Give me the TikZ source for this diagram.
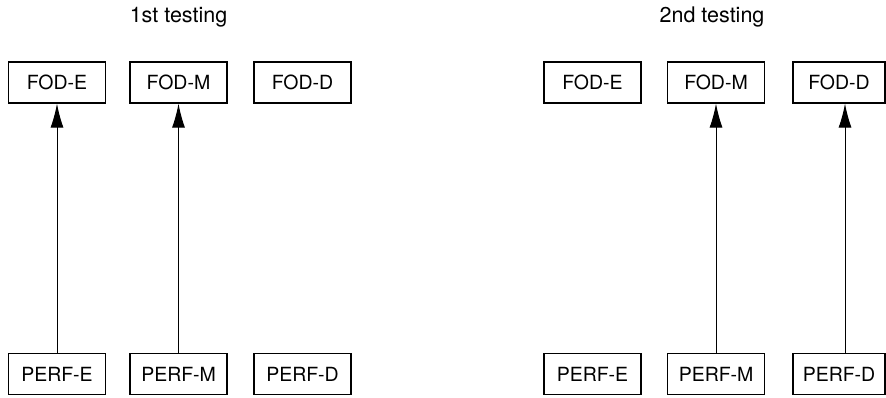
\documentclass[tikz,border=0pt]{standalone}
\usepackage{fontspec}
\setmainfont{TeX Gyre Heros}
\usepackage{tikz}
\usetikzlibrary{arrows.meta}

\begin{document}
\begin{tikzpicture}[x=0.5pt,y=-0.5pt,
		box/.style={draw,line width=0.6pt,inner sep=0pt,minimum width=48.5pt,minimum height=20.5pt,font=\fontsize{9.75}{11}\selectfont},
		title/.style={font=\fontsize{10.75}{12}\selectfont},
		link/.style={line width=0.5pt,-{Latex[length=12pt,width=6.5pt]}}]
			
			\useasboundingbox (0,0) rectangle (886,397);
			
			% first testing
			\node[title] (t1) at (178.5,17) {1st testing};
			\node[box] (fe1) at (57,82.5) {FOD-E};
			\node[box] (fm1) at (178.5,82.5) {FOD-M};
			\node[box] (fd1) at (302.5,82.5) {FOD-D};
			\node[box] (pe1) at (57,374) {PERF-E};
			\node[box] (pm1) at (178.5,374) {PERF-M};
			\node[box] (pd1) at (302.5,374) {PERF-D};
			
			\draw[link] (pe1)--(fe1);
			\draw[link] (pm1)--(fm1);
			
			% second testing
			\node[title] (t2) at (712,17) {2nd testing};
			\node[box] (fe2) at (592.5,82.5) {FOD-E};
			\node[box] (fm2) at (716,82.5) {FOD-M};
			\node[box,minimum width=46pt] (fd2) at (839,82.5) {FOD-D};
			\node[box] (pe2) at (592.5,374) {PERF-E};
			\node[box] (pm2) at (716,374) {PERF-M};
			\node[box,minimum width=46pt] (pd2) at (839,374) {PERF-D};
			
			\draw[link] (pm2)--(fm2);
			\draw[link] ([xshift=3pt]pd2.north)--([xshift=3pt]fd2.south);
			
		\end{tikzpicture}
\end{document}
